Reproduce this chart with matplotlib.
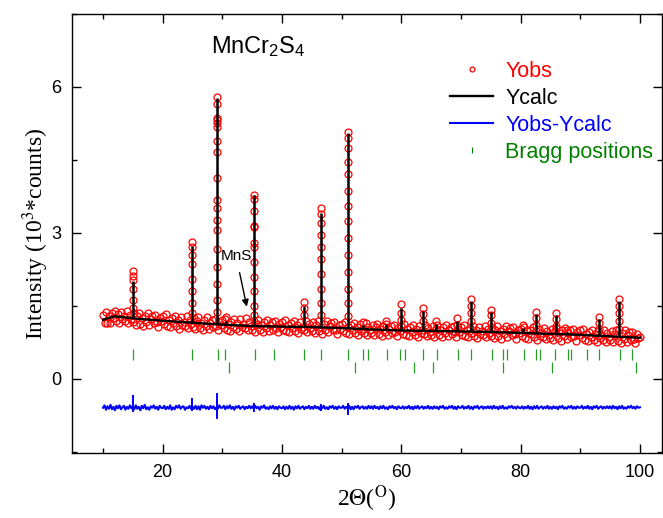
import numpy as np
import matplotlib.pyplot as plt
from matplotlib.ticker import MultipleLocator

plt.rcParams['font.family'] = ['Liberation Sans', 'DejaVu Sans']
plt.rcParams['mathtext.fontset'] = 'custom'
plt.rcParams['mathtext.rm'] = 'Liberation Sans'
plt.rcParams['mathtext.it'] = 'Liberation Sans:italic'

# observed background, 10..100 deg in 0.25 deg steps (10^3 counts)
obs_x = np.linspace(10, 100, 361)
obs_bg = [
    1.30, 1.15, 1.36, 1.14, 1.28, 1.14, 1.34, 1.24, 1.40, 1.19, 1.32, 1.15, 1.37, 1.22, 1.28, 1.18, 1.39, 1.15, 1.31, 1.23,
    1.16, 1.34, 1.11, 1.28, 1.35, 1.13, 1.24, 1.09, 1.29, 1.17, 1.34, 1.11, 1.23, 1.29, 1.14, 1.31, 1.17, 1.07, 1.25, 1.18,
    1.28, 1.12, 1.32, 1.08, 1.21, 1.06, 1.24, 1.14, 1.29, 1.08, 1.21, 1.03, 1.26, 1.11, 1.17, 1.08, 1.28, 1.04, 1.21, 1.13,
    1.07, 1.25, 1.03, 1.19, 1.26, 1.05, 1.15, 1.00, 1.21, 1.09, 1.26, 1.02, 1.15, 1.21, 1.06, 1.23, 1.08, 0.99, 1.17, 1.10,
    1.20, 1.04, 1.23, 1.00, 1.13, 0.98, 1.17, 1.07, 1.23, 1.02, 1.15, 0.98, 1.22, 1.07, 1.13, 1.04, 1.25, 1.01, 1.17, 1.09,
    1.00, 1.18, 0.96, 1.13, 1.20, 0.99, 1.10, 0.95, 1.16, 1.04, 1.20, 0.97, 1.10, 1.16, 1.01, 1.18, 1.04, 0.95, 1.13, 1.06,
    1.16, 1.00, 1.20, 0.97, 1.10, 0.95, 1.14, 1.04, 1.19, 0.98, 1.11, 0.94, 1.17, 1.02, 1.07, 0.99, 1.19, 0.95, 1.12, 1.04,
    0.98, 1.16, 0.94, 1.11, 1.18, 0.97, 1.07, 0.92, 1.13, 1.01, 1.18, 0.95, 1.08, 1.14, 0.99, 1.16, 1.01, 0.92, 1.10, 1.03,
    1.13, 0.97, 1.17, 0.94, 1.07, 0.91, 1.10, 1.00, 1.15, 0.94, 1.07, 0.90, 1.12, 0.97, 1.03, 0.94, 1.15, 0.90, 1.07, 0.99,
    0.93, 1.11, 0.89, 1.06, 1.13, 0.92, 1.02, 0.87, 1.08, 0.96, 1.13, 0.90, 1.03, 1.09, 0.94, 1.10, 0.96, 0.87, 1.05, 0.98,
    1.08, 0.92, 1.12, 0.89, 1.02, 0.87, 1.06, 0.96, 1.11, 0.90, 1.03, 0.86, 1.09, 0.94, 0.99, 0.91, 1.11, 0.87, 1.04, 0.96,
    0.90, 1.08, 0.86, 1.03, 1.10, 0.89, 1.00, 0.85, 1.06, 0.94, 1.11, 0.88, 1.01, 1.07, 0.92, 1.09, 0.95, 0.85, 1.03, 0.96,
    1.06, 0.90, 1.10, 0.87, 1.00, 0.85, 1.04, 0.94, 1.09, 0.88, 1.01, 0.84, 1.07, 0.92, 0.97, 0.89, 1.09, 0.85, 1.02, 0.94,
    0.88, 1.06, 0.84, 1.01, 1.08, 0.87, 0.97, 0.82, 1.03, 0.91, 1.08, 0.85, 0.98, 1.04, 0.89, 1.06, 0.92, 0.82, 1.00, 0.93,
    1.03, 0.87, 1.07, 0.84, 0.97, 0.82, 1.01, 0.91, 1.06, 0.85, 0.97, 0.80, 1.03, 0.88, 0.93, 0.85, 1.05, 0.81, 0.98, 0.90,
    0.84, 1.02, 0.80, 0.97, 1.04, 0.83, 0.93, 0.78, 0.99, 0.87, 1.04, 0.81, 0.94, 1.00, 0.85, 1.02, 0.87, 0.78, 0.96, 0.89,
    0.99, 0.83, 1.03, 0.80, 0.92, 0.77, 0.96, 0.86, 1.01, 0.80, 0.92, 0.75, 0.98, 0.83, 0.89, 0.80, 1.00, 0.76, 0.93, 0.85,
    0.79, 0.97, 0.75, 0.92, 0.99, 0.78, 0.88, 0.73, 0.94, 0.82, 0.99, 0.76, 0.89, 0.95, 0.80, 0.96, 0.82, 0.73, 0.91, 0.84,
    0.86,
]

# difference curve on the same grid
diff_y = [
    -0.60, -0.55, -0.64, -0.57, -0.62, -0.54, -0.63, -0.58, -0.65, -0.56, -0.61, -0.55, -0.63, -0.59, -0.56, -0.64, -0.58, -0.62, -0.55, -0.61,
    -0.57, -0.63, -0.55, -0.62, -0.58, -0.65, -0.56, -0.61, -0.54, -0.63, -0.59, -0.64, -0.57, -0.60, -0.55, -0.62, -0.58, -0.64, -0.56, -0.60,
    -0.61, -0.56, -0.63, -0.58, -0.62, -0.55, -0.64, -0.59, -0.63, -0.56, -0.60, -0.55, -0.62, -0.58, -0.57, -0.64, -0.59, -0.61, -0.56, -0.62,
    -0.58, -0.62, -0.56, -0.63, -0.57, -0.64, -0.55, -0.60, -0.56, -0.62, -0.58, -0.63, -0.56, -0.61, -0.57, -0.63, -0.59, -0.62, -0.55, -0.60,
    -0.60, -0.56, -0.63, -0.57, -0.61, -0.55, -0.62, -0.58, -0.64, -0.57, -0.60, -0.56, -0.62, -0.59, -0.57, -0.63, -0.58, -0.61, -0.56, -0.61,
    -0.57, -0.62, -0.56, -0.61, -0.58, -0.64, -0.57, -0.60, -0.55, -0.62, -0.59, -0.63, -0.57, -0.61, -0.56, -0.62, -0.58, -0.63, -0.57, -0.60,
    -0.61, -0.57, -0.63, -0.58, -0.62, -0.56, -0.62, -0.58, -0.64, -0.57, -0.61, -0.56, -0.62, -0.59, -0.57, -0.63, -0.58, -0.61, -0.56, -0.62,
    -0.58, -0.62, -0.56, -0.61, -0.58, -0.63, -0.57, -0.61, -0.56, -0.62, -0.59, -0.63, -0.57, -0.60, -0.56, -0.62, -0.58, -0.63, -0.57, -0.60,
    -0.60, -0.56, -0.62, -0.58, -0.61, -0.56, -0.63, -0.58, -0.63, -0.57, -0.60, -0.56, -0.62, -0.59, -0.57, -0.62, -0.58, -0.62, -0.56, -0.61,
    -0.57, -0.62, -0.56, -0.61, -0.58, -0.63, -0.57, -0.61, -0.56, -0.62, -0.59, -0.63, -0.57, -0.60, -0.56, -0.61, -0.58, -0.63, -0.57, -0.60,
    -0.61, -0.57, -0.62, -0.58, -0.61, -0.56, -0.62, -0.58, -0.63, -0.57, -0.61, -0.56, -0.62, -0.59, -0.57, -0.62, -0.58, -0.61, -0.56, -0.62,
    -0.58, -0.62, -0.57, -0.61, -0.58, -0.63, -0.57, -0.60, -0.56, -0.62, -0.59, -0.62, -0.57, -0.60, -0.56, -0.62, -0.58, -0.63, -0.57, -0.60,
    -0.60, -0.56, -0.62, -0.58, -0.61, -0.56, -0.62, -0.58, -0.63, -0.57, -0.60, -0.56, -0.62, -0.59, -0.57, -0.62, -0.58, -0.61, -0.57, -0.61,
    -0.57, -0.62, -0.56, -0.61, -0.58, -0.63, -0.57, -0.61, -0.56, -0.62, -0.59, -0.62, -0.57, -0.60, -0.56, -0.61, -0.58, -0.62, -0.57, -0.60,
    -0.61, -0.57, -0.62, -0.58, -0.61, -0.56, -0.62, -0.58, -0.63, -0.57, -0.61, -0.56, -0.62, -0.59, -0.57, -0.62, -0.58, -0.61, -0.56, -0.62,
    -0.58, -0.62, -0.57, -0.61, -0.58, -0.63, -0.57, -0.60, -0.56, -0.62, -0.59, -0.62, -0.57, -0.60, -0.56, -0.62, -0.58, -0.62, -0.57, -0.60,
    -0.60, -0.56, -0.62, -0.58, -0.61, -0.56, -0.62, -0.58, -0.63, -0.57, -0.60, -0.56, -0.62, -0.59, -0.57, -0.62, -0.58, -0.61, -0.57, -0.61,
    -0.57, -0.62, -0.56, -0.61, -0.58, -0.63, -0.57, -0.61, -0.56, -0.62, -0.59, -0.62, -0.57, -0.60, -0.56, -0.61, -0.58, -0.62, -0.57, -0.60,
    -0.59,
]

# calculated background knots
bg_x = [10, 11, 12, 13, 15, 20, 25, 30, 35, 40, 45, 50, 55, 60, 65, 70,
        75, 80, 85, 90, 95, 100]
bg_y = [1.21, 1.25, 1.28, 1.27, 1.24, 1.19, 1.15, 1.11, 1.08, 1.07, 1.06,
        1.04, 1.01, 0.99, 0.98, 0.97, 0.96, 0.94, 0.92, 0.90, 0.87, 0.84]

# reflections: position, background under it, calc top, obs top, obs points on flanks
pk_pos = [15.06, 24.85, 29.1, 30.6, 35.35, 43.75, 46.6, 51.0, 53.5, 57.5,
          59.9, 63.7, 65.8, 69.4, 71.6, 75.0, 80.4, 82.5, 85.9, 87.8,
          93.1, 96.5]
pk_base = [1.24, 1.15, 1.12, 1.11, 1.08, 1.06, 1.05, 1.04, 1.02, 1.00,
           0.99, 0.98, 0.98, 0.97, 0.97, 0.96, 0.94, 0.93, 0.92, 0.91,
           0.88, 0.86]
pk_calc = [2.00, 2.72, 5.78, 1.18, 3.78, 1.50, 3.40, 5.05, 1.10, 1.12,
           1.45, 1.40, 1.12, 1.18, 1.60, 1.38, 1.05, 1.32, 1.30, 0.96,
           1.22, 1.60]
pk_obs = [2.22, 2.80, 5.80, 1.27, 3.77, 1.57, 3.50, 5.07, 1.16, 1.18,
          1.54, 1.45, 1.18, 1.24, 1.64, 1.42, 1.11, 1.37, 1.35, 1.00,
          1.26, 1.63]
pk_flank = [
    [2.12, 2.02, 1.85, 1.62, 1.45],
    [2.70, 2.55, 2.35, 2.05, 1.80, 1.55, 1.35],
    [5.65, 5.37, 5.32, 5.26, 5.17, 4.89, 4.67, 4.12, 3.67, 3.51, 3.27,
     3.06, 2.67, 2.30, 1.95, 1.62, 1.38],
    [],
    [3.70, 3.44, 3.14, 3.11, 2.79, 2.71, 2.40, 2.10, 1.80, 1.50, 1.30],
    [1.45, 1.30],
    [3.38, 3.20, 2.95, 2.70, 2.45, 2.15, 1.85, 1.55, 1.30],
    [4.95, 4.75, 4.45, 4.20, 3.85, 3.55, 3.25, 2.90, 2.55, 2.20, 1.85,
     1.55, 1.28],
    [], [],
    [1.35, 1.20],
    [1.32, 1.18],
    [],
    [1.10],
    [1.50, 1.35, 1.18],
    [1.30, 1.15],
    [],
    [1.25, 1.10],
    [1.22, 1.08],
    [],
    [1.14, 1.02],
    [1.50, 1.35, 1.18, 1.02],
]

# spikes in the difference curve (position, low, high)
dpk_pos = [15.06, 24.85, 29.1, 35.35, 46.6, 51.0]
dpk_lo = [-0.68, -0.66, -0.84, -0.68, -0.67, -0.74]
dpk_hi = [-0.34, -0.40, -0.30, -0.50, -0.52, -0.50]

bragg_main = [15.09, 24.9, 29.2, 30.5, 35.4, 38.7, 43.75, 46.6, 51.1, 53.5,
              54.4, 57.6, 59.8, 60.7, 63.7, 65.9, 69.5, 71.7, 75.2, 77.1,
              77.7, 80.5, 82.5, 83.3, 85.8, 87.9, 88.5, 91.2, 93.2, 96.6,
              98.6]
bragg_mns = [31.2, 52.2, 62.1, 65.3, 77.0, 85.3, 99.3]

fig = plt.figure(figsize=(6.63, 5.18), dpi=100)
ax = fig.add_axes([0.1086, 0.1255, 0.8899, 0.8475])

# observed points
ax.plot(obs_x, obs_bg, 'o', mfc='none', mec='red', ms=5, mew=0.9, label='Yobs')
for p, top, fl in zip(pk_pos, pk_obs, pk_flank):
    ax.plot([p] * (len(fl) + 1), [top] + fl, 'o', mfc='none', mec='red',
            ms=5, mew=0.9)

# calculated profile
ax.plot(bg_x, bg_y, color='black', lw=1.7, label='Ycalc')
ax.vlines(pk_pos, pk_base, pk_calc, color='black', lw=1.8)

# difference
ax.plot(obs_x, diff_y, color='blue', lw=1.5, label='Yobs-Ycalc')
ax.vlines(dpk_pos, dpk_lo, dpk_hi, color='blue', lw=1.4)

# Bragg positions
ax.vlines(bragg_main, 0.38, 0.61, color='#2a9a2a', lw=0.9)
ax.vlines(bragg_mns, 0.12, 0.35, color='#2a9a2a', lw=0.9)
ax.plot([], [], '|', color='green', ms=7, mew=0.8, label='Bragg positions')

ax.annotate('MnS', xy=(34.1, 1.48), xytext=(32.3, 2.52), fontsize=11,
            ha='center', va='center',
            arrowprops=dict(arrowstyle='-|>', color='black', lw=1.0,
                            mutation_scale=10, shrinkA=5, shrinkB=0))

ax.text(28.1, 6.69, 'MnCr$_2$S$_4$', fontsize=17, ha='left', va='baseline')

ax.set_xlim(4.8, 103.7)
ax.set_ylim(-1.53, 7.5)
ax.xaxis.set_major_locator(MultipleLocator(20))
ax.xaxis.set_minor_locator(MultipleLocator(10))
ax.yaxis.set_major_locator(MultipleLocator(3))
ax.yaxis.set_minor_locator(MultipleLocator(1.5))
ax.tick_params(which='both', direction='in', top=True, right=True, width=1.0)
ax.tick_params(which='major', length=6.5, labelsize=13, pad=8)
ax.tick_params(which='minor', length=3.5)
for s in ax.spines.values():
    s.set_linewidth(1.0)

ax.set_xlabel(r'2$\Theta$($^{\rm O}$)', fontsize=17, family='Liberation Serif',
              math_fontfamily='stix', labelpad=2)
ax.set_ylabel('Intensity (10$^3$*counts)', fontsize=17,
              family='Liberation Serif', math_fontfamily='stix', labelpad=0)

leg = ax.legend(loc='upper left', bbox_to_anchor=(0.679, 0.883),
                bbox_transform=fig.transFigure, frameon=False, fontsize=15.5,
                handlelength=2.0, handletextpad=0.55, labelspacing=0.28,
                borderpad=0, borderaxespad=0, markerscale=0.7,
                labelcolor=['red', 'black', 'blue', 'green'])

fig.savefig('out.png', dpi=100)
